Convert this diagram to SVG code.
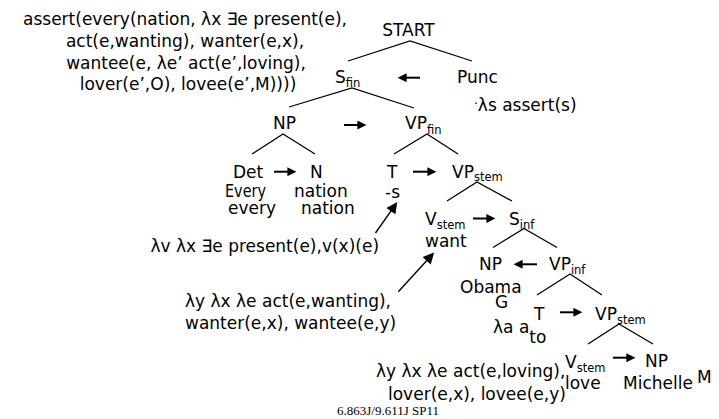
<svg xmlns="http://www.w3.org/2000/svg" width="719" height="419" viewBox="0 0 719 419">
  <defs>
    <style>
      text { font-family: "DejaVu Sans", Verdana, sans-serif; font-size: 17px; fill: #000; }
      .sub { font-size: 11.5px; }
      .mid { text-anchor: middle; }
      .foot { font-family: "Liberation Serif", "Times New Roman", serif; font-size: 13px; }
      .edge { stroke: #000; stroke-width: 1.3; fill: none; }
      .arr { stroke: #000; stroke-width: 2; fill: none; marker-end: url(#ah); }
      .arrL { stroke: #000; stroke-width: 1.4; fill: none; marker-end: url(#ahL); }
    </style>
    <!-- short rule arrow head: tip sits 6px beyond the line end -->
    <marker id="ah" viewBox="0 0 10 10" refX="4" refY="5" markerWidth="10" markerHeight="9" markerUnits="userSpaceOnUse" orient="auto">
      <path d="M0,0 L10,5 L0,10 z" fill="#000"/>
    </marker>
    <!-- long pointer arrow head: tip sits 9px beyond the line end -->
    <marker id="ahL" viewBox="0 0 10 10" refX="3" refY="5" markerWidth="13" markerHeight="11" markerUnits="userSpaceOnUse" orient="auto">
      <path d="M0,0 L10,5 L0,10 z" fill="#000"/>
    </marker>
  </defs>

  <rect width="719" height="419" fill="#fff"/>

  <!-- full semantic result -->
  <g id="result">
    <text class="mid" x="185" y="24.5">assert(every(nation, λx ∃e present(e),</text>
    <text class="mid" x="185" y="46.5">act(e,wanting), wanter(e,x),</text>
    <text class="mid" x="186" y="68.5">wantee(e, λe’ act(e’,loving),</text>
    <text class="mid" x="188" y="90">lover(e’,O), lovee(e’,M))))</text>
  </g>

  <!-- tree edges and composition arrows -->
  <g id="connectors">
    <path class="edge" d="M348,61 L410,41 L472,61"/>
    <path class="edge" d="M289,107 L352,88 L414,108"/>
    <path class="edge" d="M252,154 L283,134 L315,154"/>
    <path class="edge" d="M394,154 L427,134 L458,154"/>
    <path class="edge" d="M447,201 L477,182 L512,201"/>
    <path class="edge" d="M493,247.5 L524,228.5 L557,247.5"/>
    <path class="edge" d="M537,295 L570,274 L602,295"/>
    <path class="edge" d="M588,344 L619,324 L653,344"/>

    <line class="arr" x1="420" y1="77.7" x2="403" y2="77.7"/>
    <line class="arr" x1="344" y1="125" x2="361" y2="125"/>
    <line class="arr" x1="274" y1="171.7" x2="291" y2="171.7"/>
    <line class="arr" x1="413" y1="171.7" x2="431" y2="171.7"/>
    <line class="arr" x1="473" y1="218.5" x2="490" y2="218.5"/>
    <line class="arr" x1="537" y1="264.3" x2="519" y2="264.3"/>
    <line class="arr" x1="560" y1="312.3" x2="577" y2="312.3"/>
    <line class="arr" x1="613" y1="357.7" x2="630" y2="357.7"/>

    <line class="arrL" x1="375.5" y1="233" x2="392.8" y2="208.4"/>
    <line class="arrL" x1="398.3" y1="291.7" x2="428.9" y2="258.3"/>
  </g>

  <g id="start"><text class="mid" x="408.5" y="36">START</text></g>
  <g id="s-fin"><text x="335" y="83">S<tspan class="sub" dy="4">fin</tspan></text></g>
  <g id="punc">
    <text x="457" y="83">Punc</text>
    <text x="474" y="111"><tspan dy="-3" font-size="12">·</tspan><tspan dy="3">λs assert(s)</tspan></text>
  </g>
  <g id="np-subj"><text x="273" y="129">NP</text></g>
  <g id="vp-fin"><text x="405" y="129">VP<tspan class="sub" dy="5">fin</tspan></text></g>
  <g id="det">
    <text x="233" y="177.7">Det</text>
    <text x="225" y="197" textLength="41" lengthAdjust="spacingAndGlyphs">Every</text>
    <text x="228" y="213.5">every</text>
  </g>
  <g id="n">
    <text x="310" y="177.7">N</text>
    <text x="294" y="197">nation</text>
    <text x="301" y="213.5">nation</text>
  </g>
  <g id="t-fin">
    <text x="387" y="177.7">T</text>
    <text x="385" y="198">-s</text>
  </g>
  <g id="vp-stem-1"><text x="452" y="177.7">VP<tspan class="sub" dy="3.5">stem</tspan></text></g>
  <g id="t-sem"><text x="150.5" y="252">λv λx ∃e present(e),v(x)(e)</text></g>
  <g id="v-stem-1">
    <text x="425" y="225">V<tspan class="sub" dy="3.5">stem</tspan></text>
    <text x="425" y="246.5">want</text>
  </g>
  <g id="s-inf"><text x="509" y="225">S<tspan class="sub" dy="4">inf</tspan></text></g>
  <g id="want-sem">
    <text x="185" y="306.5">λy λx λe act(e,wanting),</text>
    <text x="185" y="328.5">wanter(e,x), wantee(e,y)</text>
  </g>
  <g id="np-obj">
    <text x="479" y="270">NP</text>
    <text x="460" y="292.7">Obama</text>
    <text x="495" y="307.7">G</text>
  </g>
  <g id="vp-inf"><text x="549" y="270">VP<tspan class="sub" dy="4">inf</tspan></text></g>
  <g id="t-inf">
    <text x="534" y="320">T</text>
    <text x="493" y="333.3">λa a<tspan dy="10">to</tspan></text>
  </g>
  <g id="vp-stem-2"><text x="595" y="320">VP<tspan class="sub" dy="4">stem</tspan></text></g>
  <g id="v-stem-2">
    <text x="565" y="368.3">V<tspan class="sub" dy="3.5">stem</tspan></text>
    <text x="565" y="388.5">love</text>
  </g>
  <g id="np-michelle">
    <text x="645" y="366.7">NP</text>
    <text x="623" y="388.5">Michelle</text>
    <text x="697" y="383">M</text>
  </g>
  <g id="love-sem">
    <text x="376" y="376.5">λy λx λe act(e,loving),</text>
    <text x="388" y="400">lover(e,x), lovee(e,y)</text>
  </g>

  <text class="foot" x="337" y="415">6.863J/9.611J SP11</text>
</svg>
